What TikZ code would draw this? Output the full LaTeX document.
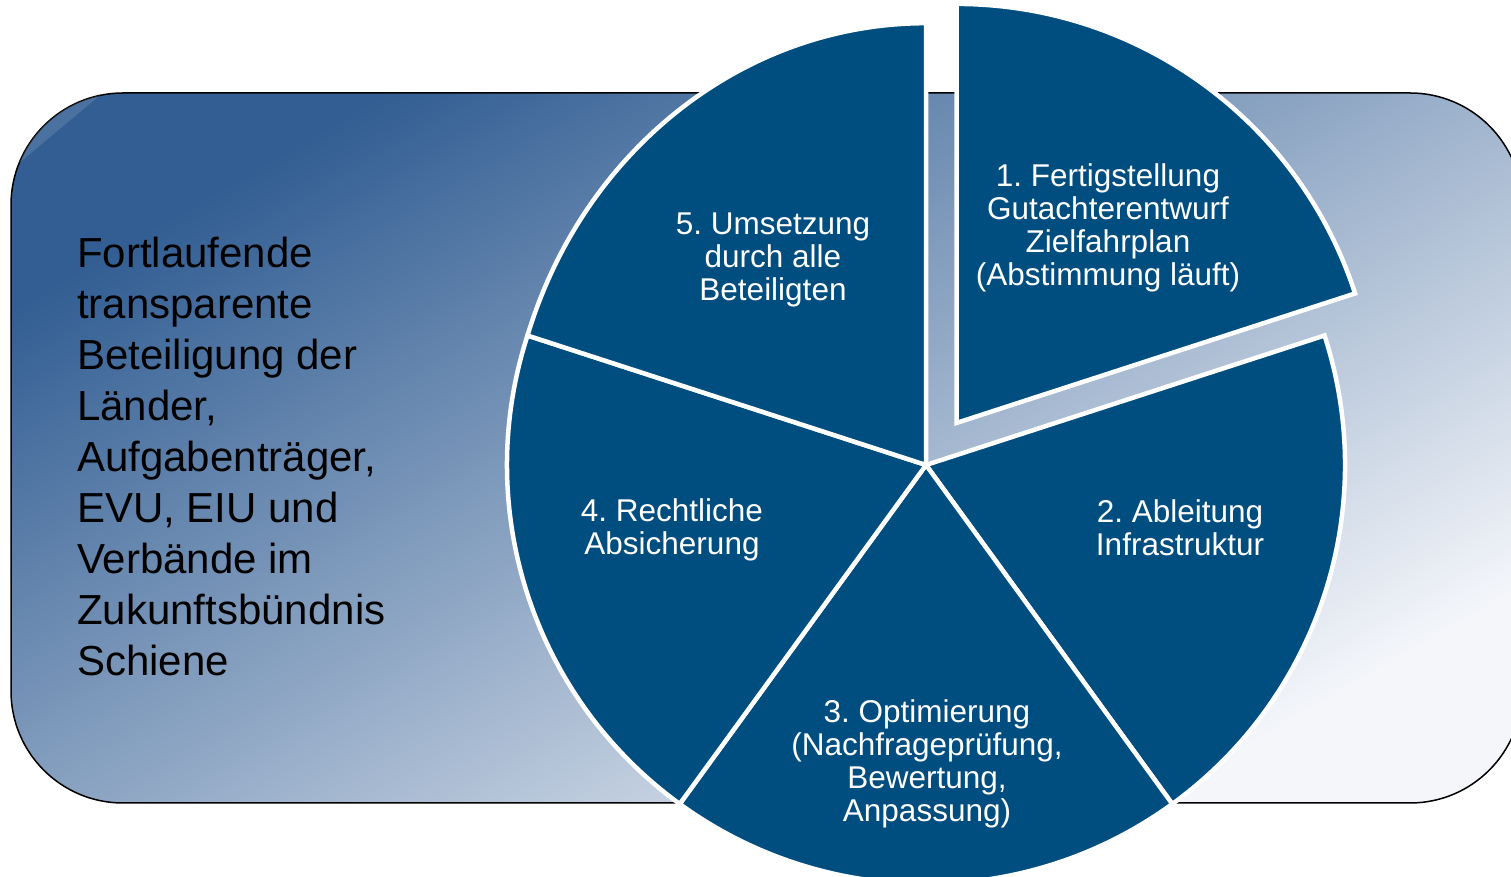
\documentclass[tikz,border=0pt]{standalone}
\usepackage{fontspec}
\setmainfont{Liberation Sans}
\usetikzlibrary{calc}
\definecolor{pieblue}{RGB}{0,77,127}
\definecolor{bgdark}{RGB}{50,94,147}
\definecolor{bglight}{RGB}{244,246,250}

\begin{document}
\frenchspacing
\begin{tikzpicture}[x=1pt,y=1pt,
	slice/.style={fill=pieblue,draw=white,line width=4.5pt,line join=miter},
	slicetext/.style={text=white,align=center,font=\fontsize{31.5}{33}\selectfont},
	sidetext/.style={text=black,align=left,anchor=west,inner sep=0pt,font=\fontsize{42}{51}\selectfont}]
	\useasboundingbox (0,0) rectangle (1511,877);
	\clip (0,0) rectangle (1511,877);
	\shadedraw[top color=bgdark,bottom color=bglight,shading angle=30,rounded corners=112pt,draw=black,line width=1.5pt] (11,74) rectangle (1522,784);
	% gloss on the upper left corner
	\coordinate (G) at (123,672);
	\fill[white,opacity=0.12] ($(G)+(158:112)$) arc[start angle=158,end angle=102,radius=112] -- cycle;

	\coordinate (C) at (926,412);
	\coordinate (C1) at ($(C)+(54:52)$);
	% the five slices, slice 1 pulled out
	\path[slice] (C1) -- ++(18:419) arc[start angle=18,end angle=90,radius=419] -- cycle;
	\path[slice] (C) -- ++(-54:419) arc[start angle=-54,end angle=18,radius=419] -- cycle;
	\path[slice] (C) -- ++(-126:419) arc[start angle=-126,end angle=-54,radius=419] -- cycle;
	\path[slice] (C) -- ++(162:419) arc[start angle=162,end angle=234,radius=419] -- cycle;
	\path[slice] (C) -- ++(162:419) arc[start angle=162,end angle=90,x radius=419,y radius=452] -- cycle;

	\node[slicetext] (s1) at (1108,649) {1. Fertigstellung\\Gutachterentwurf\\Zielfahrplan\\(Abstimmung läuft)};
	\node[slicetext] (s2) at (1180,349) {2. Ableitung\\Infrastruktur};
	\node[slicetext] (s3) at (927,113) {3. Optimierung\\(Nachfrageprüfung,\\Bewertung,\\Anpassung)};
	\node[slicetext] (s4) at (672,347) {4. Rechtliche\\Absicherung};
	\node[slicetext] (s5) at (773,617) {5. Umsetzung\\durch alle\\Beteiligten};

	\node[sidetext] (note) at (77,421) {Fortlaufende\\transparente\\Beteiligung der\\Länder,\\Aufgabenträger,\\EVU, EIU und\\Verbände im\\Zukunftsbündnis\\Schiene};
\end{tikzpicture}
\end{document}
